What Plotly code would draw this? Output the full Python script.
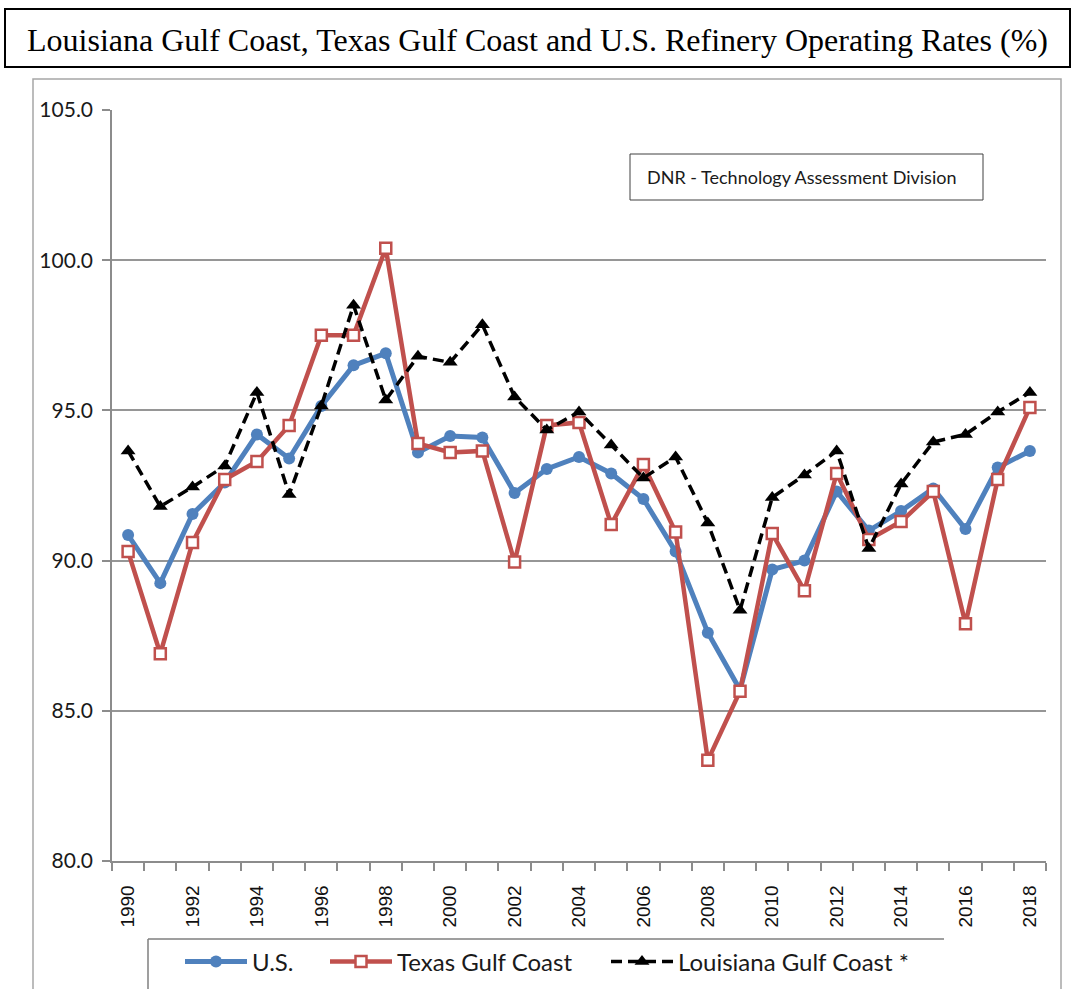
import plotly.graph_objects as go

years = list(range(1990, 2019))

us = [90.85, 89.25, 91.55, 92.6, 94.2, 93.4, 95.15, 96.5, 96.9, 93.6,
      94.15, 94.1, 92.25, 93.05, 93.45, 92.9, 92.05, 90.3, 87.6, 85.7,
      89.7, 90.0, 92.3, 91.0, 91.65, 92.4, 91.05, 93.1, 93.65]

texas = [90.3, 86.9, 90.6, 92.7, 93.3, 94.5, 97.5, 97.5, 100.4, 93.9,
         93.6, 93.65, 89.95, 94.5, 94.6, 91.2, 93.2, 90.95, 83.35, 85.65,
         90.9, 89.0, 92.9, 90.7, 91.3, 92.3, 87.9, 92.7, 95.1]

louisiana = [93.65, 91.8, 92.45, 93.15, 95.6, 92.2, 95.15, 98.5, 95.35, 96.8,
             96.6, 97.85, 95.45, 94.35, 94.95, 93.85, 92.75, 93.45, 91.25, 88.35,
             92.1, 92.85, 93.65, 90.4, 92.55, 93.95, 94.2, 94.95, 95.6]

x_labels = [str(y) for y in range(1990, 2019, 2)]

W, H = 1076, 989
PL, PR, PT, PB = 112, 1046, 110, 861


def px(x):
    return (x - PL) / (PR - PL)


def py(y):
    return (PB - y) / (PB - PT)


def cy(y):
    return 1 - y / H


fig = go.Figure()

fig.add_trace(go.Scatter(
    x=years, y=us, name="U.S.", mode="lines+markers", legend="legend",
    line=dict(color="#4F81BD", width=5),
    marker=dict(symbol="circle", size=12, color="#4F81BD"),
))
fig.add_trace(go.Scatter(
    x=years, y=texas, name="Texas Gulf Coast", mode="lines+markers", legend="legend2",
    line=dict(color="#C0504D", width=4.5),
    marker=dict(symbol="square", size=11, color="white",
                line=dict(color="#C0504D", width=2.5)),
))
fig.add_trace(go.Scatter(
    x=years, y=louisiana, name="Louisiana Gulf Coast *", mode="lines+markers", legend="legend3",
    line=dict(color="black", width=3.5, dash="11px,6px"),
    marker=dict(symbol="triangle-up", size=13, color="black"),
))

shapes = [
    dict(type="rect", xref="paper", yref="paper",
         x0=px(5), x1=px(1070), y0=py(67), y1=py(9),
         line=dict(color="black", width=2), fillcolor="rgba(0,0,0,0)"),
    dict(type="rect", xref="paper", yref="paper",
         x0=px(33), x1=px(1061), y0=py(1000), y1=py(79),
         line=dict(color="#a6a6a6", width=1.5), fillcolor="rgba(0,0,0,0)", layer="below"),
    dict(type="rect", xref="paper", yref="paper",
         x0=px(630), x1=px(983), y0=py(200), y1=py(154),
         line=dict(color="#404040", width=1), fillcolor="white"),
    dict(type="line", xref="paper", yref="paper",
         x0=px(148), x1=px(944), y0=py(939), y1=py(939),
         line=dict(color="#7f7f7f", width=1.5)),
    dict(type="line", xref="paper", yref="paper",
         x0=px(148), x1=px(148), y0=py(939), y1=py(1000),
         line=dict(color="#7f7f7f", width=1.5)),
]

annotations = [
    dict(text="Louisiana Gulf Coast, Texas Gulf Coast and U.S. Refinery Operating Rates (%)",
         xref="paper", yref="paper", x=px(25), y=py(40),
         xanchor="left", yanchor="middle", showarrow=False,
         font=dict(family="Liberation Serif", size=32, color="black")),
    dict(text="DNR - Technology Assessment Division",
         xref="paper", yref="paper", x=px(801), y=py(177),
         xanchor="center", yanchor="middle", showarrow=False,
         font=dict(family="Lato", size=18, color="#1a1a1a")),
]

legend_common = dict(orientation="h", yref="container", y=cy(962),
                     xanchor="left", yanchor="middle",
                     font=dict(family="Lato", size=24, color="#1a1a1a"),
                     itemwidth=62, bgcolor="rgba(0,0,0,0)", borderwidth=0)

fig.update_layout(
    width=W, height=H,
    margin=dict(l=PL, r=W - PR, t=PT, b=H - PB, pad=0, autoexpand=False),
    paper_bgcolor="white", plot_bgcolor="white",
    shapes=shapes, annotations=annotations,
    showlegend=True,
    legend=dict(x=px(180), **legend_common),
    legend2=dict(x=px(325), **legend_common),
    legend3=dict(x=px(606), **legend_common),
    font=dict(family="Lato"),
)

fig.update_xaxes(
    range=[1989.5, 2018.5],
    tickmode="array", tickvals=list(range(1990, 2019, 2)), ticktext=x_labels,
    tickangle=-90, ticks="outside", ticklen=15, tickcolor="rgba(0,0,0,0)",
    tickfont=dict(family="Liberation Sans", size=19, color="#111111"),
    showgrid=False, zeroline=False, automargin=False,
    showline=True, linecolor="#8c8c8c", linewidth=1.5,
    minor=dict(tick0=1989.5, dtick=1, ticks="outside", ticklen=8,
               tickcolor="#8c8c8c", tickwidth=1.5, showgrid=False),
)

fig.update_yaxes(
    range=[80, 105], tickmode="linear", tick0=80, dtick=5, tickformat=".1f",
    ticks="outside", ticklen=8, tickcolor="#8c8c8c", tickwidth=1.5,
    ticklabelstandoff=5, automargin=False,
    tickfont=dict(family="Lato", size=21, color="#1a1a1a"),
    showgrid=True, gridcolor="#969696", gridwidth=1.5,
    zeroline=False,
    showline=True, linecolor="#8c8c8c", linewidth=1.5,
)

fig.write_html("out.html", config={"displayModeBar": False},
               post_script="document.body.style.margin='0';")
